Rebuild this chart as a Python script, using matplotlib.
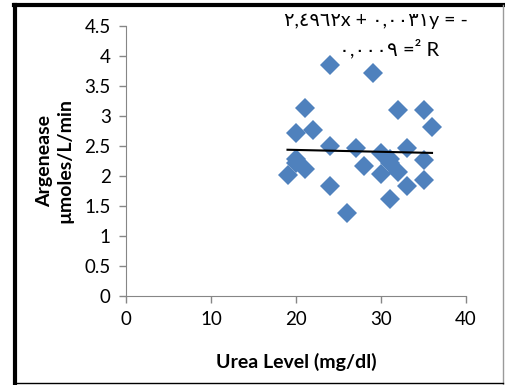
import numpy as np
import matplotlib.pyplot as plt
from matplotlib.lines import Line2D

urea = [24, 29, 21, 32, 35, 36, 20, 22, 24, 27, 33, 30, 20, 20, 35, 31, 28, 21, 32, 30, 19, 35, 24, 33, 31, 26, 31]
argenease = [3.85, 3.71, 3.13, 3.10, 3.10, 2.81, 2.71, 2.76, 2.50, 2.46, 2.46, 2.38, 2.29, 2.21, 2.27, 2.21, 2.17, 2.11, 2.07, 2.03, 2.02, 1.94, 1.84, 1.84, 1.61, 1.38, 2.28]
slope = -0.0031
intercept = 2.4962
line1 = "٢,٤٩٦٢x + ٠,٠٠٣١y = -"
line2 = "٠,٠٠٠٩ =² R"

plt.rcParams['font.family'] = ['Lato', 'DejaVu Sans']

fig = plt.figure(figsize=(5.05, 3.85), dpi=100)
ax = fig.add_axes([0.2495, 0.2312, 0.6733, 0.7013])

ax.plot(urea, argenease, 'D', color='#4F81BD', markersize=10, markeredgewidth=0, zorder=3)

xs = np.array([min(urea), max(urea)])
ax.plot(xs, slope * xs + intercept, color='black', linewidth=1.5, zorder=4)

ax.set_xlim(0, 40)
ax.set_ylim(0, 4.5)
ax.set_xticks([0, 10, 20, 30, 40])
ax.set_yticks(np.arange(0, 4.51, 0.5))
ax.set_yticklabels(['0', '0.5', '1', '1.5', '2', '2.5', '3', '3.5', '4', '4.5'])
ax.tick_params(labelsize=13.5, color='#868686', length=5, width=1, pad=6)
for s in ['top', 'right']:
    ax.spines[s].set_visible(False)
for s in ['left', 'bottom']:
    ax.spines[s].set_color('#868686')

ax.set_xlabel('Urea Level (mg/dl)', fontsize=14, fontweight='bold', labelpad=18)
ax.set_ylabel('Argenease\nµmoles/L/min', fontsize=14, fontweight='bold', labelpad=8)

fig.text(0.745, 0.948, line1, fontsize=14, ha='center', va='center')
fig.text(0.77, 0.875, line2, fontsize=14.5, ha='center', va='center')

# frame around chart: thick left/top, thin right/bottom
fig.add_artist(Line2D([0.03, 0.03], [0.003, 0.986], transform=fig.transFigure, color='black', lw=3))
fig.add_artist(Line2D([0.027, 0.997], [0.986, 0.986], transform=fig.transFigure, color='black', lw=3))
fig.add_artist(Line2D([0.997, 0.997], [0.003, 0.986], transform=fig.transFigure, color='#9a9a9a', lw=1))
fig.add_artist(Line2D([0.03, 0.997], [0.005, 0.005], transform=fig.transFigure, color='black', lw=1))

fig.savefig('out.png', dpi=100)
